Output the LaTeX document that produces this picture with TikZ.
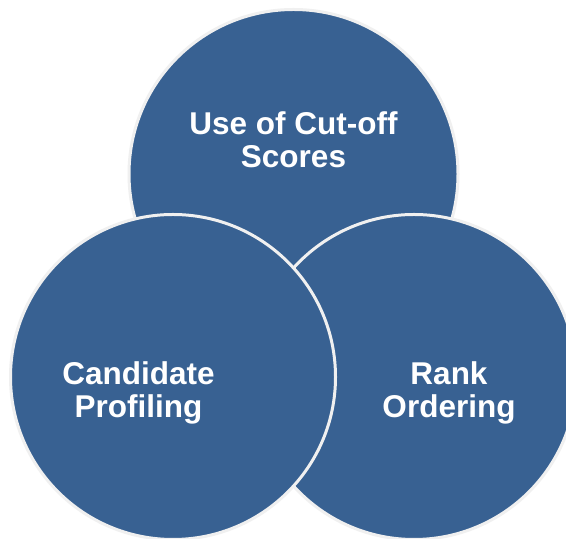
\documentclass[tikz,border=0pt]{standalone}
\usepackage{fontspec}
\setmainfont{Liberation Sans}
\definecolor{circfill}{HTML}{386192}
\definecolor{circline}{HTML}{F0F0F0}
\begin{document}
\begin{tikzpicture}[x=1bp,y=1bp,
  bubble/.style={fill=circfill,draw=circline,line width=3bp},
  label/.style={text=white,align=center,inner sep=0pt,
    font=\fontsize{31.5bp}{33bp}\selectfont\bfseries}]
\useasboundingbox (0,0) rectangle (566,539);
\fill[white] (0,0) rectangle (566,539);
\begin{scope}
\clip (0,0) rectangle (566,539);
\draw[bubble] (293.5,365) circle[radius=164.5];
\draw[bubble] (414,162) circle[radius=162.5];
\draw[bubble] (173,162) circle[radius=162.5];
\end{scope}
\node[label] (cut) at (293.5,399.3) {Use of Cut-off\\Scores};
\node[label] (prof) at (138.5,146) {Candidate\\Profiling};
\node[label] (rank) at (449,146) {Rank\\Ordering};
\end{tikzpicture}
\end{document}
